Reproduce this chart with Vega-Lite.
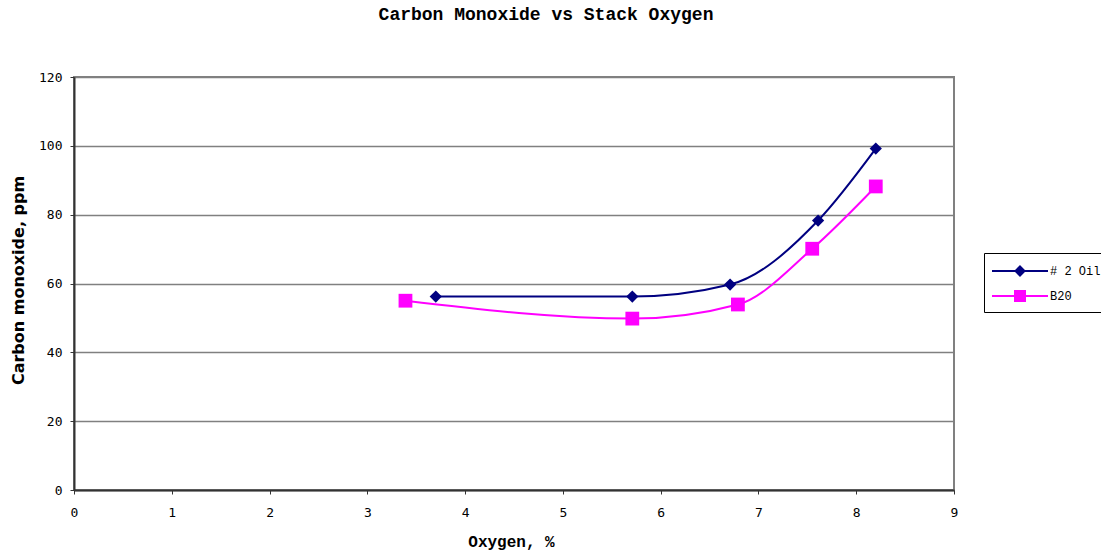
{
  "$schema": "https://vega.github.io/schema/vega-lite/v6.json",
  "autosize": {"type": "none"},
  "padding": {"left": 74, "top": 77, "right": 147, "bottom": 64},
  "width": 880,
  "height": 413,
  "background": "white",
  "title": {
    "text": "Carbon Monoxide vs Stack Oxygen",
    "font": "Liberation Mono",
    "fontSize": 18,
    "fontWeight": "bold",
    "color": "black",
    "anchor": "middle",
    "dx": 32,
    "offset": 47
  },
  "config": {
    "view": {"stroke": "#808080", "strokeWidth": 2},
    "axis": {
      "labelFont": "DejaVu Sans Mono",
      "labelFontSize": 13,
      "labelColor": "#000000",
      "labelFlush": false,
      "domainColor": "#333333",
      "domainWidth": 2,
      "tickColor": "#333333",
      "tickSize": 4,
      "titleColor": "black"
    }
  },
  "data": {
    "values": [
      {"series": "# 2 Oil", "oxygen": 3.70, "co": 56.2},
      {"series": "# 2 Oil", "oxygen": 5.71, "co": 56.2},
      {"series": "# 2 Oil", "oxygen": 6.71, "co": 59.7},
      {"series": "# 2 Oil", "oxygen": 7.61, "co": 78.3},
      {"series": "# 2 Oil", "oxygen": 8.20, "co": 99.2},
      {"series": "B20", "oxygen": 3.39, "co": 55.0},
      {"series": "B20", "oxygen": 5.71, "co": 49.8},
      {"series": "B20", "oxygen": 6.79, "co": 53.9},
      {"series": "B20", "oxygen": 7.55, "co": 70.1},
      {"series": "B20", "oxygen": 8.20, "co": 88.2}
    ]
  },
  "encoding": {
    "x": {
      "field": "oxygen",
      "type": "quantitative",
      "scale": {"domain": [0, 9], "nice": false, "zero": false},
      "axis": {
        "values": [0, 1, 2, 3, 4, 5, 6, 7, 8, 9],
        "grid": false,
        "title": "Oxygen, %",
        "titleFont": "Liberation Mono",
        "titleFontSize": 16,
        "titleFontWeight": "bold",
        "titleBaseline": "middle",
        "titleX": 437,
        "titleY": 51,
        "labelPadding": 12
      }
    },
    "y": {
      "field": "co",
      "type": "quantitative",
      "scale": {"domain": [0, 120], "nice": false},
      "axis": {
        "values": [0, 20, 40, 60, 80, 100, 120],
        "grid": true,
        "gridColor": "#808080",
        "gridWidth": 1.5,
        "title": "Carbon monoxide, ppm",
        "titleFont": "DejaVu Sans",
        "titleFontSize": 16,
        "titleFontWeight": 900,
        "titleAngle": 270,
        "titleAlign": "center",
        "titleBaseline": "middle",
        "titleX": -56,
        "titleY": 203,
        "labelPadding": 8
      }
    }
  },
  "layer": [
    {
      "mark": {"type": "line", "interpolate": "monotone", "strokeWidth": 2},
      "encoding": {
        "color": {
          "field": "series",
          "type": "nominal",
          "scale": {"domain": ["# 2 Oil", "B20"], "range": ["#000080", "#FF00FF"]},
          "legend": {
            "title": null,
            "orient": "none",
            "legendX": 910,
            "legendY": 176,
            "strokeColor": "#000000",
            "fillColor": "white",
            "padding": 7,
            "rowPadding": 5,
            "labelFont": "Liberation Mono",
            "labelFontSize": 12,
            "labelColor": "black",
            "labelOffset": 37,
            "symbolSize": 400,
            "symbolStrokeWidth": 2,
            "symbolOpacity": 1,
            "encode": {
              "symbols": {
                "update": {
                  "shape": {"signal": "datum.value === '# 2 Oil' ? 'M-1,0L4.6,0M1.8,-0.45L2.25,0L1.8,0.45L1.35,0Z' : 'M-1,0L4.6,0M1.3,-0.5L2.3,-0.5L2.3,0.5L1.3,0.5Z'"},
                  "fill": {"signal": "datum.value === '# 2 Oil' ? '#000080' : '#FF00FF'"},
                  "stroke": {"signal": "datum.value === '# 2 Oil' ? '#000080' : '#FF00FF'"}
                }
              }
            }
          }
        }
      }
    },
    {
      "transform": [{"filter": "datum.series === '# 2 Oil'"}],
      "mark": {"type": "point", "shape": "diamond", "filled": true, "opacity": 1, "color": "#000080", "size": 150}
    },
    {
      "transform": [{"filter": "datum.series === 'B20'"}],
      "mark": {"type": "point", "shape": "square", "filled": true, "opacity": 1, "color": "#FF00FF", "size": 190}
    }
  ]
}
